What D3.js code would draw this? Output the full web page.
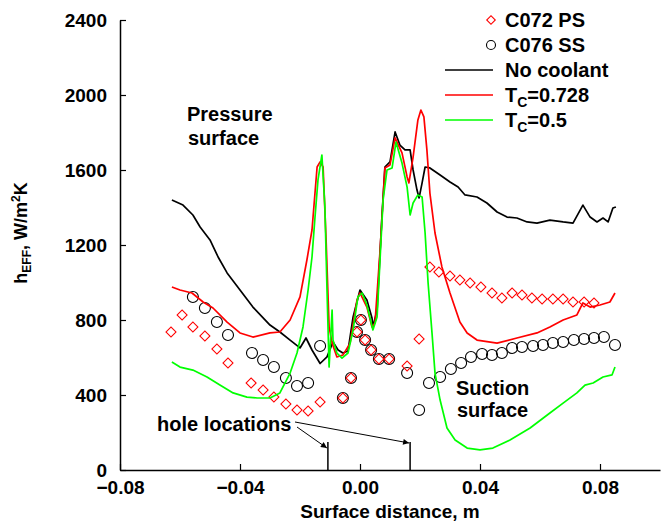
<!DOCTYPE html>
<html>
<head>
<meta charset="utf-8">
<script src="https://cdn.jsdelivr.net/npm/d3@7"></script>
<style>
  html, body { margin: 0; padding: 0; background: #fff; }
  svg { display: block; font-family: "Liberation Sans", Arial, Helvetica, sans-serif; font-weight: bold; }
</style>
</head>
<body>
<svg id="chart" width="663" height="525"></svg>
<script>
// Effective heat transfer coefficient along the vane surface (m, W/m^2K)
const noCoolant = [
  [-0.0627,1440],[-0.0590,1413],[-0.0557,1360],[-0.0533,1296],[-0.0500,1227],[-0.0473,1136],
  [-0.0443,1051],[-0.0400,960],[-0.0357,869],[-0.0300,773],[-0.0267,736],[-0.0233,693],
  [-0.0200,651],[-0.0180,704],[-0.0160,640],[-0.0133,568],[-0.0110,603],[-0.0090,683],
  [-0.0073,640],[-0.0057,624],[-0.0040,635],[-0.0023,816],[0.0000,960],[0.0023,907],
  [0.0040,811],[0.0043,763],[0.0057,853],[0.0073,1349],[0.0083,1616],[0.0100,1643],
  [0.0117,1803],[0.0133,1733],[0.0150,1707],[0.0167,1707],[0.0177,1600],[0.0190,1493],
  [0.0197,1451],[0.0207,1531],[0.0217,1616],[0.0233,1611],[0.0267,1573],[0.0300,1536],
  [0.0327,1509],[0.0350,1467],[0.0390,1456],[0.0423,1424],[0.0457,1376],[0.0490,1349],
  [0.0523,1344],[0.0557,1323],[0.0590,1317],[0.0633,1333],[0.0677,1323],[0.0710,1317],
  [0.0743,1413],[0.0767,1349],[0.0790,1323],[0.0810,1344],[0.0827,1323],[0.0843,1397],
  [0.0853,1403]
];
const tc0728 = [
  [-0.0627,976],[-0.0600,960],[-0.0560,944],[-0.0523,896],[-0.0490,864],[-0.0443,789],
  [-0.0400,731],[-0.0357,709],[-0.0300,731],[-0.0267,736],[-0.0233,800],[-0.0200,923],
  [-0.0177,1120],[-0.0160,1280],[-0.0143,1616],[-0.0133,1643],[-0.0123,1616],[-0.0113,1227],
  [-0.0103,763],[-0.0093,677],[-0.0077,603],[-0.0057,613],[-0.0033,677],[-0.0010,907],
  [0.0000,944],[0.0023,869],[0.0040,763],[0.0050,784],[0.0067,1173],[0.0083,1611],
  [0.0100,1627],[0.0117,1771],[0.0140,1691],[0.0157,1563],[0.0163,1531],[0.0177,1669],
  [0.0193,1867],[0.0203,1920],[0.0213,1883],[0.0223,1707],[0.0233,1477],[0.0250,1264],
  [0.0273,1083],[0.0300,944],[0.0333,789],[0.0357,731],[0.0390,693],[0.0457,677],
  [0.0523,704],[0.0590,731],[0.0633,763],[0.0677,800],[0.0723,827],[0.0743,891],
  [0.0767,869],[0.0800,880],[0.0833,896],[0.0850,944]
];
const tc05 = [
  [-0.0627,576],[-0.0600,549],[-0.0557,533],[-0.0510,496],[-0.0467,453],[-0.0423,411],
  [-0.0377,389],[-0.0343,384],[-0.0300,384],[-0.0267,411],[-0.0233,517],[-0.0210,624],
  [-0.0190,763],[-0.0173,960],[-0.0160,1136],[-0.0150,1349],[-0.0140,1547],[-0.0127,1680],
  [-0.0117,1403],[-0.0110,960],[-0.0103,549],[-0.0093,853],[-0.0090,693],[-0.0077,624],
  [-0.0060,597],[-0.0040,624],[-0.0023,747],[-0.0007,923],[0.0007,944],[0.0023,880],
  [0.0043,747],[0.0057,816],[0.0077,1440],[0.0090,1600],[0.0107,1611],[0.0120,1749],
  [0.0140,1637],[0.0157,1509],[0.0167,1360],[0.0177,1424],[0.0193,1467],[0.0207,1456],
  [0.0217,1264],[0.0227,997],[0.0240,731],[0.0250,517],[0.0267,373],[0.0290,224],
  [0.0317,160],[0.0357,117],[0.0400,107],[0.0443,117],[0.0500,160],[0.0567,224],
  [0.0633,304],[0.0677,357],[0.0723,411],[0.0750,453],[0.0777,464],[0.0810,496],
  [0.0840,507],[0.0850,549]
];
// Measurements: C072 pressure side (diamonds), C076 suction side (circles)
const c072PS = [
  [-0.0630,736],[-0.0593,827],[-0.0557,763],[-0.0517,715],[-0.0477,645],[-0.0440,571],
  [-0.0363,464],[-0.0323,427],[-0.0287,389],[-0.0247,352],[-0.0210,320],[-0.0173,315],
  [-0.0133,363],[-0.0057,384],[-0.0030,491],[-0.0010,736],[0.0003,800],[0.0017,693],
  [0.0037,640],[0.0063,592],[0.0097,592],[0.0157,555],[0.0197,699],[0.0233,1083],
  [0.0263,1056],[0.0300,1035],[0.0333,1013],[0.0367,997],[0.0403,976],[0.0440,944],
  [0.0473,917],[0.0507,944],[0.0540,933],[0.0573,917],[0.0607,912],[0.0643,912],
  [0.0677,912],[0.0710,896],[0.0747,896],[0.0780,891]
];
const c076SS = [
  [-0.0557,923],[-0.0517,864],[-0.0477,789],[-0.0440,720],[-0.0360,624],[-0.0323,587],
  [-0.0287,549],[-0.0247,491],[-0.0210,448],[-0.0173,464],[-0.0133,661],[-0.0057,384],
  [-0.0030,491],[-0.0010,736],[0.0003,800],[0.0017,693],[0.0037,640],[0.0063,592],
  [0.0097,592],[0.0157,517],[0.0197,320],[0.0230,464],[0.0267,496],[0.0303,539],
  [0.0337,571],[0.0370,603],[0.0407,619],[0.0440,613],[0.0473,624],[0.0507,651],
  [0.0540,656],[0.0577,661],[0.0610,667],[0.0643,677],[0.0677,683],[0.0713,693],
  [0.0747,699],[0.0780,704],[0.0813,709],[0.0850,667]
];
const holeLocations = [-0.0107, 0.0167];
const holeMarkHeight = 150;

const xMajorTicks = [-0.08, -0.04, 0, 0.04, 0.08];
const xMinorTicks = d3.range(-8, 11).map(i => i / 100);
const yMajorTicks = [0, 400, 800, 1200, 1600, 2000, 2400];
const yMinorTicks = d3.range(0, 2401, 100);

const legendItems = [
  {label: "C072 PS", kind: "diamond", color: "#ff0000"},
  {label: "C076 SS", kind: "circle", color: "#000000"},
  {label: "No coolant", kind: "line", color: "#000000"},
  {label: "T", sub: "C", rest: "=0.728", kind: "line", color: "#ff0000"},
  {label: "T", sub: "C", rest: "=0.5", kind: "line", color: "#00ff00"}
];

const svg = d3.select("#chart");
const FS = 19;

const x = d3.scaleLinear().domain([-0.08, 0.10]).range([120, 660]);
const y = d3.scaleLinear().domain([0, 2400]).range([470, 20]);

// Axes: inward ticks, minor ticks shorter
const gx = svg.append("g").attr("transform", `translate(0,${y(0)})`);
gx.call(d3.axisBottom(x).tickValues(xMinorTicks).tickSizeInner(-4).tickSizeOuter(0).tickFormat(""));
gx.call(d3.axisBottom(x).tickValues(xMajorTicks).tickSizeInner(-6).tickSizeOuter(0)
  .tickPadding(11).tickFormat(d3.format(".2f")));
const gy = svg.append("g").attr("transform", `translate(${x(-0.08)},0)`);
gy.call(d3.axisLeft(y).tickValues(yMinorTicks).tickSizeInner(-4).tickSizeOuter(0).tickFormat(""));
gy.call(d3.axisLeft(y).tickValues(yMajorTicks).tickSizeInner(-6).tickSizeOuter(0)
  .tickPadding(13).tickFormat(d3.format("d")));
svg.selectAll(".domain").attr("stroke", "#000").attr("stroke-width", 1.5);
svg.selectAll(".tick line").attr("stroke", "#000").attr("stroke-width", 1.2);
svg.selectAll(".tick text").attr("font-size", FS).attr("font-weight", "bold")
  .attr("font-family", "'Liberation Sans', Arial, sans-serif").attr("fill", "#000");

// Axis titles
svg.append("text").attr("x", 390).attr("y", 518).attr("text-anchor", "middle")
  .attr("font-size", FS).text("Surface distance, m");
const yt = svg.append("text").attr("transform", "translate(27,233) rotate(-90)")
  .attr("text-anchor", "middle").attr("font-size", 18);
yt.append("tspan").text("h");
yt.append("tspan").attr("font-size", 12).attr("dy", 4).text("EFF");
yt.append("tspan").attr("dy", -4).text(", W/m");
yt.append("tspan").attr("font-size", 12).attr("dy", -7).text("2");
yt.append("tspan").attr("dy", 7).text("K");

// Measurement markers
const diamond = d3.symbol().type(d3.symbolSquare).size(50);
svg.append("g").selectAll("circle").data(c076SS).join("circle")
  .attr("cx", d => x(d[0])).attr("cy", d => y(d[1])).attr("r", 5.5)
  .attr("fill", "none").attr("stroke", "#000").attr("stroke-width", 1.1);
svg.append("g").selectAll("path").data(c072PS).join("path")
  .attr("d", diamond)
  .attr("transform", d => `translate(${x(d[0])},${y(d[1])}) rotate(45)`)
  .attr("fill", "none").attr("stroke", "#ff0000").attr("stroke-width", 1.1);

// Computed curves
const line = d3.line().x(d => x(d[0])).y(d => y(d[1]));
[[noCoolant, "#000000"], [tc0728, "#ff0000"], [tc05, "#00ff00"]].forEach(([data, c]) => {
  svg.append("path").datum(data).attr("d", line)
    .attr("fill", "none").attr("stroke", c).attr("stroke-width", 1.7)
    .attr("stroke-linejoin", "round");
});

// Hole location marks and callout
const defs = svg.append("defs");
defs.append("marker").attr("id", "arrow").attr("viewBox", "0 0 10 10")
  .attr("refX", 10).attr("refY", 5).attr("markerWidth", 9).attr("markerHeight", 6)
  .attr("markerUnits", "userSpaceOnUse").attr("orient", "auto")
  .append("path").attr("d", "M0,0L10,5L0,10Z").attr("fill", "#000");
svg.append("g").selectAll("line").data(holeLocations).join("line")
  .attr("x1", d => x(d)).attr("x2", d => x(d))
  .attr("y1", y(0)).attr("y2", y(holeMarkHeight))
  .attr("stroke", "#000").attr("stroke-width", 1.5);
svg.append("text").attr("x", 157).attr("y", 431).attr("font-size", 20).text("hole locations");
svg.append("line").attr("x1", 297).attr("y1", 427).attr("x2", x(holeLocations[0]) - 1).attr("y2", 448)
  .attr("stroke", "#000").attr("stroke-width", 1).attr("marker-end", "url(#arrow)");
svg.append("line").attr("x1", 295).attr("y1", 422).attr("x2", x(holeLocations[1]) - 1).attr("y2", 443)
  .attr("stroke", "#000").attr("stroke-width", 1).attr("marker-end", "url(#arrow)");

// Region labels
svg.append("text").attr("x", 187).attr("y", 121).attr("font-size", 20).text("Pressure");
svg.append("text").attr("x", 188).attr("y", 145).attr("font-size", 20).text("surface");
svg.append("text").attr("x", 456).attr("y", 395).attr("font-size", 20).text("Suction");
svg.append("text").attr("x", 457).attr("y", 417).attr("font-size", 20).text("surface");

// Legend
const lg = svg.append("g");
legendItems.forEach((it, i) => {
  const cy = 20 + i * 25;
  if (it.kind === "line") {
    lg.append("line").attr("x1", 445).attr("x2", 493).attr("y1", cy).attr("y2", cy)
      .attr("stroke", it.color).attr("stroke-width", 1.7);
  } else if (it.kind === "circle") {
    lg.append("circle").attr("cx", 491).attr("cy", cy).attr("r", 4.5)
      .attr("fill", "none").attr("stroke", it.color).attr("stroke-width", 1.1);
  } else {
    lg.append("path").attr("d", d3.symbol().type(d3.symbolSquare).size(36))
      .attr("transform", `translate(491,${cy}) rotate(45)`)
      .attr("fill", "none").attr("stroke", it.color).attr("stroke-width", 1.1);
  }
  const t = lg.append("text").attr("x", 505).attr("y", cy + 7).attr("font-size", 20);
  t.append("tspan").text(it.label);
  if (it.sub) {
    t.append("tspan").attr("font-size", 14).attr("dy", 5).text(it.sub);
    t.append("tspan").attr("dy", -5).text(it.rest);
  }
});
</script>
</body>
</html>
